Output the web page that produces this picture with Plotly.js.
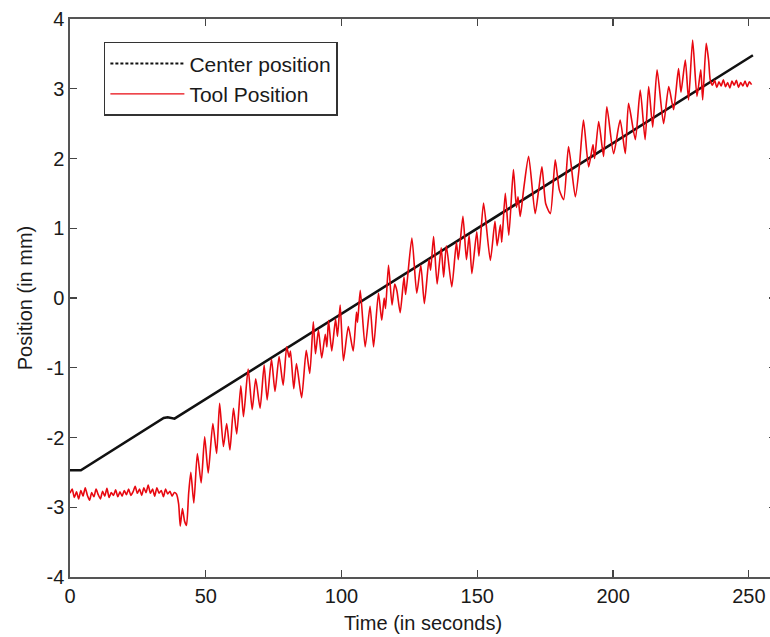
<!DOCTYPE html>
<html>
<head>
<meta charset="utf-8">
<script src="https://cdn.plot.ly/plotly-3.0.1.min.js"></script>
<style>
html,body{margin:0;padding:0;overflow:hidden;background:#fff;}
#chart{width:780px;height:637px;}
</style>
</head>
<body>
<div id="chart"></div>
<script>
// Center position (black)
var centerX = [0, 4, 34.5, 36, 38.5, 251.5];
var centerY = [-2.47, -2.47, -1.72, -1.71, -1.73, 3.48];

// Tool position (red)
var toolX = [
  0, 0.8, 1.6, 2.4, 3.2, 4.0, 4.8, 5.6, 6.4, 7.2, 8.0, 8.8, 9.6, 10.4, 11.2, 12.0, 12.8, 13.6, 14.4, 15.2,
  16.0, 16.8, 17.6, 18.4, 19.2, 20.0, 20.8, 21.6, 22.4, 23.2, 24.0, 24.8, 25.6, 26.4, 27.2, 28.0, 28.8, 29.6,
  30.4, 31.2, 32.0, 32.8, 33.6, 34.4, 35.2, 36.0, 36.8, 37.6, 38.4, 39.2,
  40.0, 40.6, 41.4, 42.2, 42.9, 43.7, 44.5, 45.6, 46.9, 48.3, 49.6, 50.9, 52.6, 54.0, 55.1, 56.5, 57.7, 58.9,
  60.2, 61.4, 62.9, 63.9, 65.6, 67.1, 68.4, 70.0, 71.5, 72.6, 74.2, 75.5, 77.0, 78.5, 79.8, 80.7, 81.2, 82.4,
  83.4, 85.3, 87.0, 88.3, 89.6, 90.4, 91.5, 92.7, 94.0, 94.6, 95.2, 96.4, 97.8, 98.5, 99.5, 100.7, 102.5,
  104.3, 105.5, 105.9, 106.9, 108.7, 110.5, 111.8, 113.6, 114.8, 115.7, 116.2, 117.3, 118.6, 119.6, 120.4,
  121.6, 123.0, 123.6, 125.9, 127.7, 129.2, 130.5, 132.2, 132.8, 133.9, 135.2, 136.7, 137.6, 138.6, 140.6,
  142.3, 143.0, 144.7, 146.0, 147.0, 148.0, 149.8, 150.6, 152.3, 154.8, 156.5, 157.3, 158.5, 159.0, 160.3,
  161.6, 163.3, 164.4, 165.0, 165.8, 167.2, 168.9, 171.3, 172.6, 173.8, 175.2, 176.9, 178.7, 180.2, 181.8,
  183.6, 186.1, 187.6, 189.1, 191.0, 192.6, 193.2, 194.7, 196.5, 197.7, 200.2, 202.6, 204.5, 205.7, 208.2,
  210.0, 211.8, 213.1, 214.6, 216.2, 218.6, 220.5, 222.3, 224.1, 225.0, 226.6, 227.8, 229.3, 230.9, 232.3,
  233.0, 234.3, 235.2, 235.8, 236.6, 237.4, 238.2, 239.0, 239.8, 240.6, 241.4, 242.2, 243.0, 243.8, 244.6,
  245.4, 246.2, 247.0, 247.8, 248.6, 249.4, 250.2, 251.0
];
var toolY = [
  -2.80, -2.74, -2.86, -2.78, -2.88, -2.76, -2.84, -2.72, -2.83, -2.90, -2.79, -2.85, -2.74, -2.82, -2.88, -2.77, -2.84, -2.73, -2.86, -2.79,
  -2.83, -2.75, -2.85, -2.78, -2.84, -2.76, -2.82, -2.74, -2.83, -2.78, -2.70, -2.80, -2.74, -2.83, -2.72, -2.79, -2.68, -2.80,
  -2.74, -2.84, -2.72, -2.80, -2.76, -2.85, -2.74, -2.81, -2.77, -2.84, -2.79, -2.81,
  -2.95, -3.27, -3.02, -3.20, -3.26, -2.80, -2.50, -2.94, -2.23, -2.65, -1.99, -2.51, -1.80, -2.23, -1.51, -2.13, -1.80, -2.18,
  -1.58, -1.95, -1.26, -1.70, -1.02, -1.60, -1.16, -1.58, -0.96, -1.46, -0.88, -1.34, -0.84, -1.25, -0.70, -0.85, -0.76, -1.30,
  -0.94, -1.43, -0.75, -1.08, -0.34, -0.80, -0.46, -0.86, -0.52, -0.70, -0.32, -0.76, -0.30, -0.55, -0.10, -0.90, -0.41,
  -0.76, -0.20, -0.35, 0.11, -0.70, -0.12, -0.70, 0.07, -0.32, 0.00, -0.15, 0.47, -0.10, 0.20, 0.10,
  -0.21, 0.30, 0.05, 0.86, 0.07, 0.47, -0.08, 0.55, 0.40, 0.88, 0.20, 0.72, 0.30, 0.75, 0.16,
  0.80, 0.55, 1.17, 0.55, 0.90, 0.35, 0.95, 0.60, 1.36, 0.54, 1.10, 0.75, 1.05, 0.80, 1.50,
  0.90, 1.84, 1.30, 1.45, 1.17, 1.60, 2.03, 1.21, 1.55, 1.88, 1.35, 1.21, 1.98, 1.55, 1.41,
  2.17, 1.45, 1.90, 2.55, 1.88, 2.20, 2.00, 2.53, 2.03, 2.74, 2.07, 2.55, 2.07, 2.79, 2.27,
  2.98, 2.27, 3.03, 2.45, 3.27, 2.50, 3.03, 2.70, 3.29, 2.95, 3.41, 2.84, 3.70, 2.89, 3.27,
  2.84, 3.65, 3.40, 3.12, 3.05, 3.12, 3.02, 3.10, 3.04, 3.13, 3.03, 3.09, 3.01, 3.11, 3.05,
  3.12, 3.02, 3.09, 3.04, 3.11, 3.03, 3.10, 3.06
];

var xTickVals = [0, 50, 100, 150, 200, 250];
var xTickText = ['0', '50', '100', '150', '200', '250'];
var yTickVals = [-4, -3, -2, -1, 0, 1, 2, 3, 4];
var yTickText = ['-4', '-3', '-2', '-1', '0', '1', '2', '3', '4'];

var FONT = 'Liberation Sans, Arial, sans-serif';
var TXT = '#1a1a1a';

var traces = [
  {x: centerX, y: centerY, mode: 'lines', type: 'scatter', showlegend: false,
   line: {color: '#111', width: 2.6}, hoverinfo: 'skip'},
  {x: toolX, y: toolY, mode: 'lines', type: 'scatter', name: 'Tool Position', showlegend: false,
   line: {color: 'rgb(232,8,16)', width: 1.6, shape: 'spline', smoothing: 0.6}},
  // legend entries
  {x: [null], y: [null], mode: 'lines', type: 'scatter', name: 'Center position',
   line: {color: '#111', width: 2, dash: '3px,2px'}},
  {x: [null], y: [null], mode: 'lines', type: 'scatter', name: 'Tool Position',
   line: {color: 'rgb(232,8,16)', width: 1.3}}
];

var axisCommon = {
  ticks: 'inside', ticklen: 7, tickwidth: 1.2, tickcolor: '#444',
  showline: true, linecolor: '#555', linewidth: 1.6, mirror: 'ticks',
  showgrid: false, zeroline: false,
  tickfont: {family: FONT, size: 20, color: TXT}
};

var layout = {
  width: 780, height: 637,
  margin: {l: 70, r: 4, t: 19, b: 60},
  paper_bgcolor: '#fff', plot_bgcolor: '#fff',
  font: {family: FONT, size: 20, color: TXT},
  xaxis: Object.assign({}, axisCommon, {
    range: [0, 260], tickmode: 'array', tickvals: xTickVals, ticktext: xTickText,
    title: {text: 'Time (in seconds)', font: {family: FONT, size: 20, color: TXT}, standoff: 10}
  }),
  yaxis: Object.assign({}, axisCommon, {
    range: [-4, 4], tickmode: 'array', tickvals: yTickVals, ticktext: yTickText,
    title: {text: 'Position (in mm)', font: {family: FONT, size: 20, color: TXT}, standoff: 8}
  }),
  showlegend: true,
  legend: {
    x: 0.048, y: 0.959, xanchor: 'left', yanchor: 'top',
    bgcolor: '#fff', bordercolor: '#333', borderwidth: 1.5,
    font: {family: FONT, size: 21, color: TXT},
    itemwidth: 74,
    tracegroupgap: 0
  }
};

Plotly.newPlot('chart', traces, layout, {displayModeBar: false, staticPlot: true});
</script>
</body>
</html>
